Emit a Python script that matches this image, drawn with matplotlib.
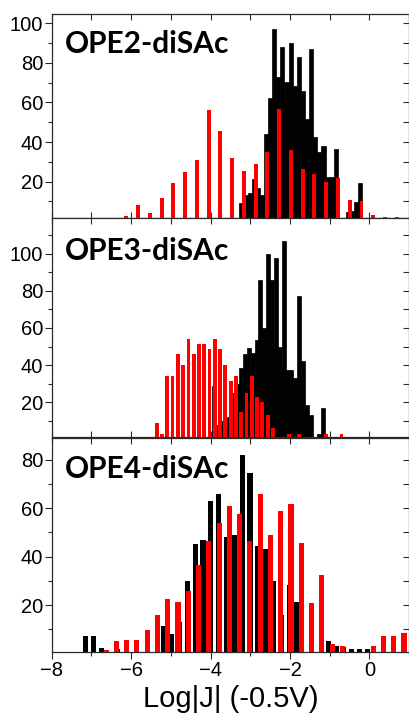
import numpy as np
import matplotlib
matplotlib.use("Agg")
import matplotlib.pyplot as plt
from matplotlib.ticker import MultipleLocator

# ---------------- data ----------------
titles = ["OPE2-diSAc", "OPE3-diSAc", "OPE4-diSAc"]
xlabel = "Log|J| (-0.5V)"

# panel 1 (OPE2)
black1_start, black1_step = -3.224, 0.1033
black1 = [9.4, 13.3, 14.4, 21.3, 17, 13.3, 44, 62, 97, 73, 88, 70.5, 90, 68.3, 83,
          66, 51.5, 87, 42.4, 35.2, 38.2, 22.5, 22.2, 36.3, 0, 0, 4.5, 5.2, 9.6, 19.2]
red1_start, red1_step = -6.12, 0.296
red1 = [2.7, 8.2, 4.3, 11.8, 19.3, 24.9, 31.1, 56.2, 45.4, 31.8, 25.2, 28.8, 35.2,
        56.5, 36.2, 26.2, 23.9, 20, 21.7, 10.7, 10.2, 3.2, 2, 2]

# panel 2 (OPE3)
black2_start, black2_step = -3.922, 0.098
black2 = [29, 8, 10, 6, 12, 25, 30, 38.3, 46, 49, 46.4, 53.6, 86, 60, 100, 86, 97.7,
          50, 107, 37.4, 37.4, 33, 77, 42, 18.5, 13.1, 0, 2.9, 17]
red2_start, red2_step = -5.356, 0.133
red2 = [8.7, 2.9, 34.4, 34.4, 45.9, 40.1, 54.3, 45.9, 51.6, 51.6, 48.8, 54.3, 48.8,
        40.1, 31.6, 34.4, 15, 25, 34.4, 23, 20, 13, 6, 0, 0, 2.9, 0, 2.9, 0, 0, 0,
        0, 2.9, 0, 0, 2.9]

# panel 3 (OPE4)
black3_start, black3_step = -7.144, 0.197
black3 = [7.2, 7.2, 2.2, 0, 1.9, 0, 0, 0, 0, 0, 11.3, 8.1, 12.9, 30, 45, 47, 63, 66,
          48.2, 49, 82, 74.5, 44.3, 43.3, 30, 16, 28.3, 21.2, 0, 0, 0, 5.1, 3, 2.6,
          2, 2, 2]
red3_start, red3_step = -6.63, 0.2586
red3 = [1.5, 5.1, 5.8, 5.8, 9.9, 15.8, 22.6, 21.1, 26, 36.5, 46.3, 54, 61, 57.5,
        46.3, 65.8, 49, 59, 61.7, 45.6, 21, 32.4, 3.8, 3.1, 0, 0, 3.1, 7.2, 7.2, 8.5]

yticks = [[20, 40, 60, 80, 100], [20, 40, 60, 80, 100], [20, 40, 60, 80]]
ylims = [(1.5, 104.5), (1.5, 119), (0.8, 89)]
xlim = (-8, 1.0)

panels = [
    (black1_start, black1_step, black1, 0.1033, 0.5, red1_start, red1_step, red1, 0.10),
    (black2_start, black2_step, black2, 0.098, 0.5, red2_start, red2_step, red2, 0.095),
    (black3_start, black3_step, black3, 0.13, 0.0, red3_start, red3_step, red3, 0.13),
]

# ---------------- figure ----------------
plt.rcParams['font.family'] = ['Liberation Sans', 'DejaVu Sans']
fig = plt.figure(figsize=(4.10, 7.15), dpi=100)

left, width = 0.126, 0.872
boxes = [(0.6947, 0.2853), (0.3892, 0.3055), (0.0885, 0.2993)]
axcol = '#2a2a2a'

for i, (bs, bst, bv, bw, blw, rs, rst, rv, rw) in enumerate(panels):
    b0, h = boxes[i]
    ax = fig.add_axes([left, b0, width, h])
    bx = bs + bst * np.arange(len(bv))
    rx = rs + rst * np.arange(len(rv))
    ax.bar(bx, bv, width=bw, color='black', edgecolor='black', linewidth=blw, zorder=2)
    ax.bar(rx, rv, width=rw, color='#ff0000', linewidth=0, zorder=3)
    ax.set_xlim(*xlim)
    ax.set_ylim(*ylims[i])
    ax.set_yticks(yticks[i])
    ax.yaxis.set_minor_locator(MultipleLocator(10))
    ax.xaxis.set_major_locator(MultipleLocator(2))
    ax.xaxis.set_minor_locator(MultipleLocator(1))
    for sp in ax.spines.values():
        sp.set_linewidth(0.9)
        sp.set_color(axcol)
    ax.tick_params(axis='y', which='both', left=True, right=False, direction='out',
                   labelsize=14.5, color=axcol, pad=1)
    ax.tick_params(axis='y', which='major', length=5, width=0.8)
    ax.tick_params(axis='y', which='minor', length=3, width=0.8)
    # right ticks inward
    sy = ax.secondary_yaxis('right')
    sy.set_yticks(yticks[i])
    sy.yaxis.set_minor_locator(MultipleLocator(10))
    sy.tick_params(axis='y', which='both', direction='in', length=4, width=0.8,
                   labelright=False, color=axcol)
    sy.spines['right'].set_visible(False)
    # top ticks inward
    sx = ax.secondary_xaxis('top')
    sx.xaxis.set_major_locator(MultipleLocator(1))
    sx.tick_params(axis='x', which='both', direction='in', length=4, width=0.8,
                   labeltop=False, color=axcol)
    sx.spines['top'].set_visible(False)
    if i < 2:
        ax.tick_params(axis='x', which='both', direction='in', labelbottom=False,
                       length=4, width=0.8, color=axcol)
    else:
        ax.tick_params(axis='x', which='major', direction='out', length=5, width=0.8,
                       labelsize=14.5, color=axcol, pad=2)
        ax.tick_params(axis='x', which='minor', direction='out', length=3, width=0.8,
                       color=axcol)
        ax.set_xlabel(xlabel, fontsize=21, labelpad=3)
    ax.text(0.037, 0.81, titles[i], transform=ax.transAxes, fontsize=21.5,
            fontweight='bold', family=['Lato', 'DejaVu Sans'], va='baseline',
            ha='left', zorder=5)

fig.savefig('out.png', dpi=100)
